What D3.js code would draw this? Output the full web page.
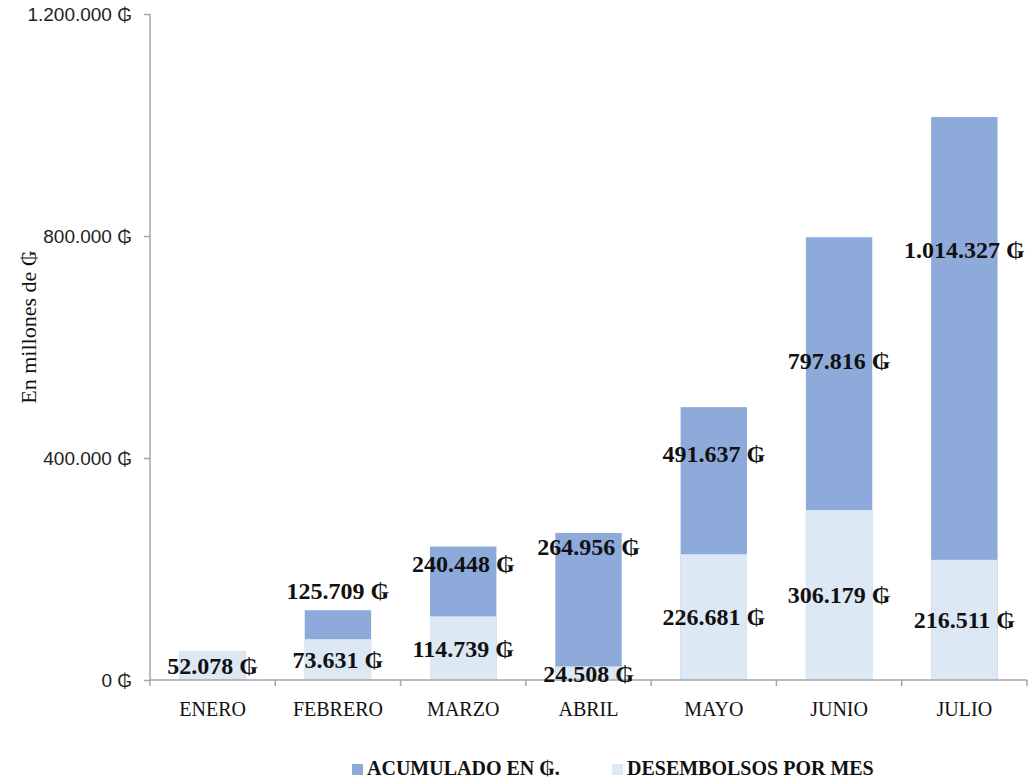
<!DOCTYPE html>
<html>
<head>
<meta charset="utf-8">
<script src="https://cdn.jsdelivr.net/npm/d3@7"></script>
<style>
  body { margin: 0; background: #fff; }
  svg { display: block; }
</style>
</head>
<body>
<div id="graph"></div>
<script>
const months = ["ENERO", "FEBRERO", "MARZO", "ABRIL", "MAYO", "JUNIO", "JULIO"];
const desembolsos = [52078, 73631, 114739, 24508, 226681, 306179, 216511];
const acumulado = [52078, 125709, 240448, 264956, 491637, 797816, 1014327];
const yTicks = [0, 400000, 800000, 1200000];
const yTickLabels = ["0 ₲", "400.000 ₲", "800.000 ₲", "1.200.000 ₲"];
const seriesNames = ["ACUMULADO EN ₲.", "DESEMBOLSOS POR MES"];

let w = 1035;
let h = 780;
let plotLeft = 150, plotRight = 1027, plotTop = 14, plotBottom = 680;

const darkBlue = "#8eaadb";
const lightBlue = "#dde8f5";
const serif = "'Liberation Serif', 'DejaVu Serif', serif";

const locale = d3.formatLocale({ decimal: ",", thousands: ".", grouping: [3], currency: ["", ""] });
const fmt = d => locale.format(",")(d) + " ₲";

// label nudges for the cumulative series (px from the bar top)
const acumDy = [null, -20, 17, 14, 46, 123, 133];

const svg = d3.select("#graph")
              .append("svg")
              .attr("width", w)
              .attr("height", h);

const x = d3.scaleBand()
            .domain(months)
            .range([plotLeft, plotRight])
            .paddingInner(0.47)
            .paddingOuter(0.235);

const y = d3.scaleLinear()
            .domain([0, 1200000])
            .range([plotBottom, plotTop]);

// bars: cumulative behind, monthly in front
svg.selectAll("rect.acum")
   .data(months)
   .enter()
   .append("rect")
   .attr("class", "acum")
   .attr("x", d => x(d))
   .attr("width", x.bandwidth())
   .attr("y", (d, i) => y(acumulado[i]))
   .attr("height", (d, i) => y(0) - y(acumulado[i]))
   .attr("fill", darkBlue);

svg.selectAll("rect.mes")
   .data(months)
   .enter()
   .append("rect")
   .attr("class", "mes")
   .attr("x", d => x(d))
   .attr("width", x.bandwidth())
   .attr("y", (d, i) => y(desembolsos[i]))
   .attr("height", (d, i) => y(0) - y(desembolsos[i]))
   .attr("fill", lightBlue);

// y axis
const yAxis = d3.axisLeft(y)
                .tickValues(yTicks)
                .tickSize(6)
                .tickPadding(12)
                .tickFormat((d, i) => yTickLabels[i]);

const gy = svg.append("g")
              .attr("transform", `translate(${plotLeft}, 0)`)
              .call(yAxis);
gy.select(".domain").remove();
gy.selectAll("line").attr("stroke", "#a6a6a6").attr("stroke-width", 1.5);
gy.selectAll("text")
  .style("font-family", "'Liberation Sans', Arial, sans-serif")
  .style("font-size", "19px")
  .attr("fill", "#222");
svg.append("line")
   .attr("x1", plotLeft).attr("x2", plotLeft)
   .attr("y1", plotTop).attr("y2", plotBottom)
   .attr("stroke", "#a6a6a6").attr("stroke-width", 1.5);

// x axis
svg.append("line")
   .attr("x1", plotLeft).attr("x2", plotRight)
   .attr("y1", plotBottom).attr("y2", plotBottom)
   .attr("stroke", "#a6a6a6").attr("stroke-width", 1.5);

svg.selectAll("line.xtick")
   .data(d3.range(months.length + 1))
   .enter()
   .append("line")
   .attr("class", "xtick")
   .attr("x1", i => plotLeft + i * x.step())
   .attr("x2", i => plotLeft + i * x.step())
   .attr("y1", plotBottom)
   .attr("y2", plotBottom + 6)
   .attr("stroke", "#a6a6a6").attr("stroke-width", 1.5);

svg.selectAll("text.cat")
   .data(months)
   .enter()
   .append("text")
   .attr("class", "cat")
   .attr("x", d => x(d) + x.bandwidth() / 2)
   .attr("y", plotBottom + 36)
   .attr("text-anchor", "middle")
   .style("font-family", serif)
   .style("font-size", "20px")
   .attr("fill", "#111")
   .text(d => d);

// data labels
svg.selectAll("text.lmes")
   .data(months)
   .enter()
   .append("text")
   .attr("class", "lmes")
   .attr("x", d => x(d) + x.bandwidth() / 2)
   .attr("y", (d, i) => (y(desembolsos[i]) + y(0)) / 2)
   .attr("dy", "0.35em")
   .attr("text-anchor", "middle")
   .style("font-family", serif)
   .style("font-weight", "bold")
   .style("font-size", "24px")
   .attr("fill", "#111")
   .text((d, i) => fmt(desembolsos[i]));

svg.selectAll("text.lacum")
   .data(months.filter((d, i) => acumDy[i] !== null))
   .enter()
   .append("text")
   .attr("class", "lacum")
   .attr("x", d => x(d) + x.bandwidth() / 2)
   .attr("y", d => y(acumulado[months.indexOf(d)]) + acumDy[months.indexOf(d)])
   .attr("dy", "0.35em")
   .attr("text-anchor", "middle")
   .style("font-family", serif)
   .style("font-weight", "bold")
   .style("font-size", "24px")
   .attr("fill", "#111")
   .text(d => fmt(acumulado[months.indexOf(d)]));

// y title
svg.append("text")
   .attr("transform", "rotate(-90)")
   .attr("x", -327)
   .attr("y", 36)
   .attr("text-anchor", "middle")
   .style("font-family", serif)
   .style("font-size", "22px")
   .attr("fill", "#111")
   .text("En millones de ₲");

// legend
const legend = svg.append("g").attr("id", "legend");
const legendX = [352, 612];
const legendColors = [darkBlue, lightBlue];
seriesNames.forEach((name, i) => {
  legend.append("rect")
        .attr("x", legendX[i])
        .attr("y", 764)
        .attr("width", 11)
        .attr("height", 11)
        .attr("fill", legendColors[i]);
  legend.append("text")
        .attr("x", legendX[i] + 15)
        .attr("y", 775)
        .style("font-family", serif)
        .style("font-weight", "bold")
        .style("font-size", "20px")
        .attr("fill", "#111")
        .text(name);
});
</script>
</body>
</html>
